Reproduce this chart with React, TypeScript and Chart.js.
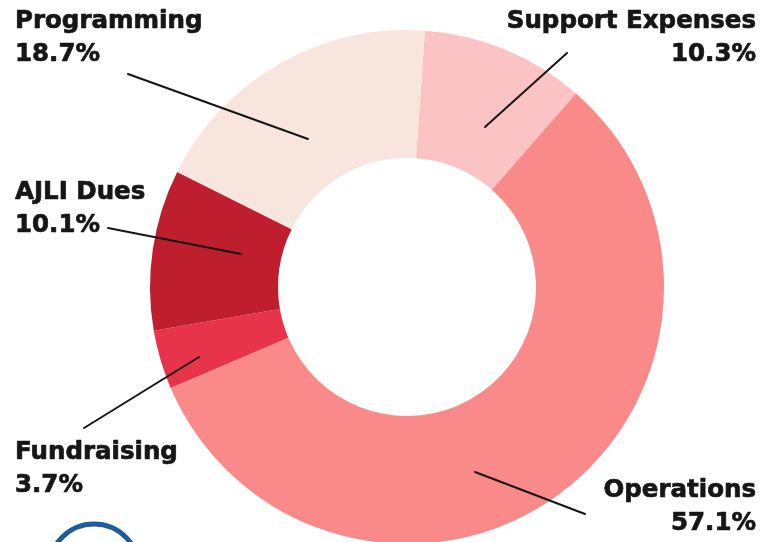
import React, { useEffect, useRef } from "react";
import { Chart, registerables } from "chart.js";

Chart.register(...registerables);

const categories = ["Support Expenses", "Operations", "Fundraising", "AJLI Dues", "Programming"];
const values = [10.3, 57.1, 3.7, 10.1, 18.7];
const colors = ["#FBC3C4", "#F98A89", "#E8344B", "#BE1E2E", "#F7E5DE"];

// annotation layout: text anchor and leader line endpoints (relative to chart centre)
const labelAlign = ["right", "right", "left", "left", "left"];
const labelX = [756, 756, 15, 15, 15];
const labelY = [28, 497, 459, 199, 28];
const lineFrom = [[160, -234], [68, 185], [-323, 141], [-299, -59], [-279, -213]];
const lineTo = [[78, -160], [178, 227], [-208, 70], [-166, -33], [-99, -148]];

const labelPlugin = {
  id: "calloutLabels",
  afterDraw(chart: any) {
    const ctx = chart.ctx;
    const arc = chart.getDatasetMeta(0).data[0];
    const cx = arc.x;
    const cy = arc.y;
    ctx.save();
    // leader lines
    ctx.strokeStyle = "#151515";
    ctx.lineWidth = 2;
    ctx.lineCap = "round";
    categories.forEach((_, i) => {
      ctx.beginPath();
      ctx.moveTo(cx + lineFrom[i][0], cy + lineFrom[i][1]);
      ctx.lineTo(cx + lineTo[i][0], cy + lineTo[i][1]);
      ctx.stroke();
    });
    // texts
    ctx.fillStyle = "#161616";
    ctx.strokeStyle = "#161616";
    ctx.lineWidth = 0.7;
    ctx.lineJoin = "round";
    ctx.font = "bold 24.5px 'DejaVu Sans'";
    ctx.textBaseline = "alphabetic";
    categories.forEach((c, i) => {
      ctx.textAlign = labelAlign[i];
      const pct = values[i].toFixed(1) + "%";
      ctx.fillText(c, labelX[i], labelY[i]);
      ctx.strokeText(c, labelX[i], labelY[i]);
      ctx.fillText(pct, labelX[i], labelY[i] + 33);
      ctx.strokeText(pct, labelX[i], labelY[i] + 33);
    });
    // partial blue logo ring at bottom-left
    ctx.strokeStyle = "#1E5D9C";
    ctx.lineWidth = 5;
    ctx.beginPath();
    ctx.arc(94, 569, 45, 0, Math.PI * 2);
    ctx.stroke();
    ctx.restore();
  },
};

export default function App() {
  const ref = useRef<HTMLCanvasElement>(null);
  useEffect(() => {
    document.body.style.margin = "0";
    const chart = new Chart(ref.current!, {
      type: "doughnut",
      data: {
        labels: categories,
        datasets: [
          {
            data: values,
            backgroundColor: colors,
            borderWidth: 0,
            clip: false,
            radius: 257,
            cutout: 128,
          } as any,
        ],
      },
      options: {
        animation: false,
        responsive: false,
        rotation: 4,
        layout: { padding: { top: 32, left: 40, right: 0, bottom: 0 } },
        plugins: { legend: { display: false }, tooltip: { enabled: false } },
      } as any,
      plugins: [labelPlugin],
    });
    return () => chart.destroy();
  }, []);
  return (
    <div style={{ position: "absolute", left: 0, top: 0, width: 774, height: 542, overflow: "hidden", background: "#fff" }}>
      <canvas ref={ref} width={774} height={542} style={{ width: 774, height: 542 }} />
    </div>
  );
}
